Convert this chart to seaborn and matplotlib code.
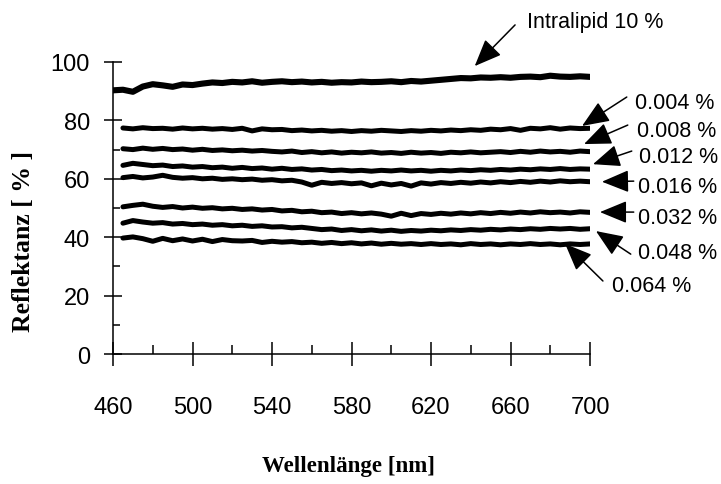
import matplotlib
matplotlib.use("Agg")
import matplotlib.pyplot as plt
from matplotlib.ticker import FixedLocator
import seaborn as sns
import pandas as pd

# Wavelength grids (nm)
wl_intralipid = list(range(460, 705, 5))
wl_dilution = list(range(465, 705, 5))

# Axis ticks
x_major = [460, 500, 540, 580, 620, 660, 700]
x_minor = [480, 520, 560, 600, 640, 680]
y_major = [0, 20, 40, 60, 80, 100]
y_minor = [10, 30, 50, 70, 90]

# Reflectance of the undiluted Intralipid 10 % sample (%)
refl_intralipid = [
    90.3, 90.5, 89.8, 91.6, 92.4, 92.0, 91.5, 92.3, 92.1, 92.6,
    93.0, 92.8, 93.2, 93.0, 93.4, 92.9, 93.2, 93.4, 93.1, 93.3,
    93.0, 93.2, 92.9, 93.1, 93.0, 93.3, 93.1, 93.2, 93.4, 93.1,
    93.5, 93.3, 93.6, 93.9, 94.2, 94.5, 94.4, 94.7, 94.6, 94.8,
    94.6, 94.9, 95.0, 94.8, 95.3, 95.0, 94.9, 95.1, 94.9,
]

# Reflectance of the diluted samples (%)
refl_0004 = [
    77.4, 77.1, 77.5, 77.2, 77.3, 77.0, 77.4, 77.1, 77.3, 77.0,
    77.2, 76.9, 77.3, 76.4, 77.1, 76.8, 76.9, 76.5, 76.7, 76.4,
    76.6, 76.3, 76.5, 76.2, 76.5, 76.3, 76.6, 76.4, 76.2, 76.5,
    76.3, 76.6, 76.4, 76.7, 76.5, 76.8, 76.6, 77.0, 76.8, 77.2,
    76.6, 77.3, 77.1, 77.5, 77.0, 77.4, 77.2, 77.3,
]
refl_0008 = [
    70.3, 70.0, 70.5, 70.1, 70.4, 70.0, 70.2, 69.8, 70.1, 69.7,
    69.9, 69.6, 69.8, 69.5, 69.7, 69.4, 69.2, 69.5, 69.0, 69.3,
    68.9, 69.2, 68.8, 69.1, 68.9, 69.2, 68.8, 69.0, 68.7, 69.1,
    68.8, 69.0, 68.7, 69.1, 68.9, 69.2, 68.9, 69.1, 69.3, 69.0,
    69.4, 69.1, 69.5, 69.2, 69.4, 69.1, 69.5, 69.3,
]
refl_0012 = [
    64.6, 65.3, 64.9, 64.5, 64.7, 64.2, 64.4, 64.0, 64.2, 63.8,
    64.0, 63.6, 63.9, 63.5, 63.7, 63.3, 63.6, 63.2, 63.4, 63.0,
    63.2, 62.8, 63.0, 62.7, 62.9, 62.6, 62.9, 62.7, 63.0, 62.7,
    62.9, 62.6, 62.9, 62.7, 63.0, 62.8, 63.1, 62.9, 63.2, 63.0,
    63.3, 63.1, 63.4, 63.2, 63.5, 63.2, 63.4, 63.3,
]
refl_0016 = [
    60.4, 60.8, 60.3, 60.6, 61.2, 60.5, 60.2, 60.4, 60.0, 60.2,
    59.8, 60.0, 59.7, 59.9, 59.5, 59.7, 59.3, 59.5, 58.9, 57.8,
    58.8, 58.4, 58.7, 58.3, 58.6, 57.6, 58.5, 57.9, 58.4, 57.5,
    58.6, 58.2, 58.7, 58.4, 58.8, 58.5, 58.9, 58.6, 59.0, 58.7,
    59.1, 58.8, 59.2, 58.9, 59.3, 59.0, 59.2, 59.0,
]
refl_0032 = [
    50.4, 50.9, 51.3, 50.6, 50.2, 50.5, 50.0, 50.3, 49.9, 50.1,
    49.7, 49.9, 49.5, 49.7, 49.3, 49.5, 49.0, 49.2, 48.7, 48.9,
    48.4, 48.6, 48.1, 48.4, 48.0, 48.3, 47.9, 47.2, 48.2, 47.4,
    48.1, 47.8, 48.2, 47.9, 48.3, 48.0, 48.4, 48.1, 48.5, 48.2,
    48.6, 48.3, 48.7, 48.4, 48.6, 48.3, 48.7, 48.5,
]
refl_0048 = [
    44.8, 45.7, 45.2, 44.8, 45.0, 44.5, 44.7, 44.3, 44.5, 44.1,
    44.3, 43.9, 44.1, 43.7, 43.9, 43.5, 43.6, 43.2, 43.4, 43.0,
    42.6, 42.8, 42.3, 42.6, 42.2, 42.5, 42.1, 42.4, 42.0, 42.3,
    42.1, 42.4, 42.2, 42.5, 42.3, 42.6, 42.4, 42.7, 42.5, 42.8,
    42.6, 42.9, 42.7, 43.0, 42.8, 43.0, 42.7, 42.9,
]
refl_0064 = [
    39.7, 40.1, 39.5, 38.6, 39.6, 38.8, 39.4, 38.7, 39.3, 38.5,
    39.2, 38.8, 38.7, 38.9, 38.2, 38.6, 38.3, 38.5, 38.1, 38.3,
    37.9, 38.2, 37.8, 38.1, 37.7, 38.0, 37.6, 37.9, 37.6, 37.8,
    37.5, 37.8, 37.5, 37.7, 37.4, 37.8, 37.5, 37.7, 37.4, 37.7,
    37.5, 37.8, 37.5, 37.7, 37.4, 37.7, 37.5, 37.7,
]

dilution_labels = ["0.004 %", "0.008 %", "0.012 %", "0.016 %",
                   "0.032 %", "0.048 %", "0.064 %"]
dilution_series = [refl_0004, refl_0008, refl_0012, refl_0016,
                   refl_0032, refl_0048, refl_0064]

# Label text position and arrow (tail -> tip) for each curve, in data units
label_pos = [(722.5, 86.3), (723.5, 76.4), (724.5, 67.8), (724, 57.5),
             (724, 46.9), (724, 34.9), (711, 23.3)]
arrow_tail = [(718.5, 88.0), (719, 78.4), (721, 69.5), (722, 59.2),
              (722, 48.6), (720.5, 34.2), (706.5, 25.0)]
arrow_tip = [(696, 78.1), (697, 71.9), (701.5, 65.0), (706, 59.0),
             (705, 48.6), (703, 42.1), (687.5, 37.7)]

sns.set_theme(style="white")
sans = ["Liberation Sans", "DejaVu Sans"]
serif = ["Liberation Serif", "DejaVu Serif"]
plt.rcParams["font.family"] = sans
plt.rcParams["text.color"] = "black"

fig = plt.figure(figsize=(7.21, 4.85), dpi=100)
ax = fig.add_axes([113 / 721, 130 / 485, 477 / 721, 292 / 485])

frames = [pd.DataFrame({"wl": wl_intralipid, "refl": refl_intralipid,
                        "probe": "Intralipid 10 %"})]
for lab, vals in zip(dilution_labels, dilution_series):
    frames.append(pd.DataFrame({"wl": wl_dilution, "refl": vals, "probe": lab}))
data = pd.concat(frames, ignore_index=True)

sns.lineplot(data=data[data.probe == "Intralipid 10 %"], x="wl", y="refl",
             color="black", linewidth=4.4, ax=ax, legend=False)
for lab in dilution_labels:
    sns.lineplot(data=data[data.probe == lab], x="wl", y="refl",
                 color="black", linewidth=3.6, ax=ax, legend=False)

ax.set_xlim(460, 700)
ax.set_ylim(0, 100)
ax.xaxis.set_major_locator(FixedLocator(x_major))
ax.xaxis.set_minor_locator(FixedLocator(x_minor))
ax.yaxis.set_major_locator(FixedLocator(y_major))
ax.yaxis.set_minor_locator(FixedLocator(y_minor))

for side in ("top", "right"):
    ax.spines[side].set_visible(False)
for side in ("left", "bottom"):
    ax.spines[side].set_color("black")
    ax.spines[side].set_linewidth(1.1)

ax.tick_params(axis="x", which="major", direction="inout", length=17,
               width=1.1, color="black", pad=22, labelsize=17,
               labelcolor="black", bottom=True)
ax.tick_params(axis="x", which="minor", direction="in", length=6.5,
               width=1.1, color="black", bottom=True)
ax.tick_params(axis="y", which="major", direction="inout", length=13,
               width=1.1, color="black", pad=10, labelsize=17,
               labelcolor="black", left=True)
ax.tick_params(axis="y", which="minor", direction="in", length=5,
               width=1.1, color="black", left=True)

ax.set_xlabel("")
ax.set_ylabel("")
fig.text(348 / 721, 1 - 467 / 485, "Wellenlänge [nm]", family=serif,
         fontweight="bold", fontsize=16.5, ha="center", va="center",
         color="black")
fig.text(24 / 721, 1 - 242 / 485, "Reflektanz [ % ]", family=serif,
         fontweight="bold", fontsize=18.5, ha="center", va="center",
         rotation=90, color="black")

arrow_style = dict(arrowstyle="-|>,head_length=0.8,head_width=0.33",
                   mutation_scale=21, color="black", lw=1.1,
                   shrinkA=0, shrinkB=0)

ax.annotate("", xy=(642, 98.6), xytext=(662.3, 112.7),
            arrowprops=arrow_style, annotation_clip=False)
ax.text(668.3, 113.7, "Intralipid 10 %", fontsize=15.5, ha="left",
        va="center", clip_on=False, color="black")

for lab, pos, tail, tip in zip(dilution_labels, label_pos, arrow_tail, arrow_tip):
    ax.annotate("", xy=tip, xytext=tail, arrowprops=arrow_style,
                annotation_clip=False)
    ax.text(pos[0], pos[1], lab, fontsize=15.5, ha="left", va="center",
            clip_on=False, color="black")

fig.savefig("out.png", dpi=100)
